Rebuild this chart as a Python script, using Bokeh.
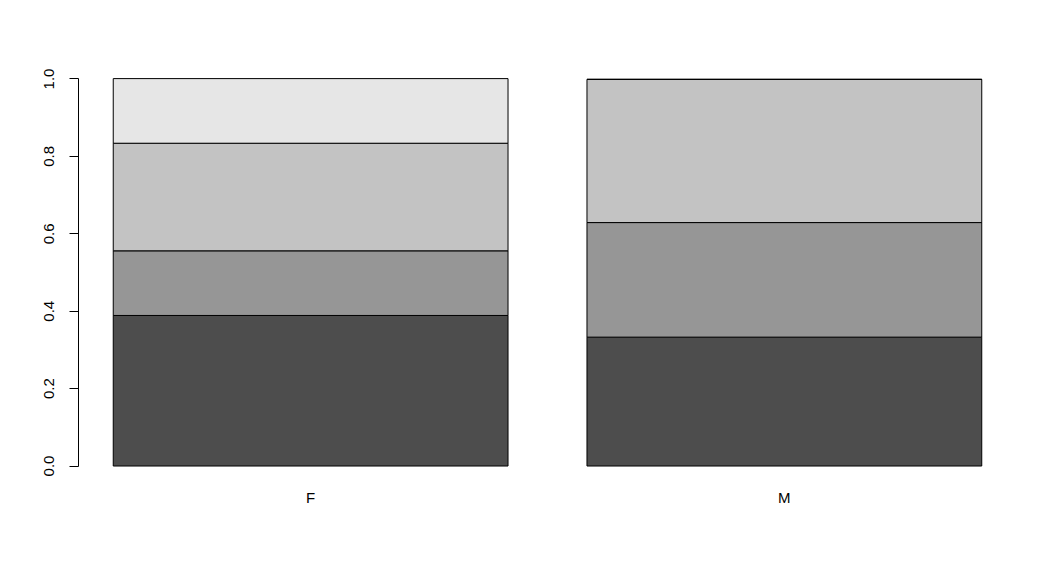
from bokeh.plotting import figure
from bokeh.models import Range1d, LinearAxis, FixedTicker, NumeralTickFormatter, ColumnDataSource
from bokeh.embed import file_html
from bokeh.resources import INLINE

# Data
categories = ["F", "M"]
seg1 = [0.389, 0.333]
seg2 = [0.167, 0.296]
seg3 = [0.278, 0.370]
seg4 = [0.167, 0.000]
colors = ["#4D4D4D", "#969696", "#C3C3C3", "#E6E6E6"]
y_ticks = [0.0, 0.2, 0.4, 0.6, 0.8, 1.0]

bar_width = 1.0
space = 0.2
lefts = [space + i * (bar_width + space) for i in range(len(categories))]
rights = [l + bar_width for l in lefts]
centers = [(l + r) / 2 for l, r in zip(lefts, rights)]

xmin, xmax = lefts[0], rights[-1]
pad = 0.04 * (xmax - xmin)

p = figure(width=1041, height=551, output_backend="svg", toolbar_location=None,
           x_range=Range1d(xmin - pad, xmax + pad), y_range=Range1d(-0.04, 1.04),
           x_axis_type=None, y_axis_type=None,
           min_border_left=78, min_border_right=25, min_border_top=63, min_border_bottom=70)
p.outline_line_color = None
p.xgrid.visible = False
p.ygrid.visible = False
p.background_fill_color = "white"
p.border_fill_color = "white"

bottom = [0.0] * len(categories)
for seg, col in zip([seg1, seg2, seg3, seg4], colors):
    top = [b + s for b, s in zip(bottom, seg)]
    src = ColumnDataSource(dict(left=lefts, right=rights, bottom=bottom, top=top))
    p.quad(left="left", right="right", bottom="bottom", top="top", source=src,
           fill_color=col, line_color="black", line_width=1)
    bottom = top

yaxis = LinearAxis(bounds=(0, 1), ticker=FixedTicker(ticks=y_ticks),
                   formatter=NumeralTickFormatter(format="0.0"))
yaxis.minor_tick_line_color = None
yaxis.major_tick_in = 0
yaxis.major_tick_out = 9
yaxis.major_label_orientation = "vertical"
yaxis.major_label_standoff = 15
yaxis.major_label_text_font = "Liberation Sans"
yaxis.major_label_text_font_size = "15px"
yaxis.major_label_text_color = "black"
yaxis.axis_line_color = "black"
yaxis.major_tick_line_color = "black"
p.add_layout(yaxis, "left")

xaxis = LinearAxis(ticker=FixedTicker(ticks=centers),
                   major_label_overrides={c: name for c, name in zip(centers, categories)})
xaxis.axis_line_color = None
xaxis.major_tick_line_color = None
xaxis.minor_tick_line_color = None
xaxis.major_tick_out = 0
xaxis.major_tick_in = 0
xaxis.major_label_standoff = 7
xaxis.major_label_text_font = "Liberation Sans"
xaxis.major_label_text_font_size = "15px"
xaxis.major_label_text_color = "black"
p.add_layout(xaxis, "below")

open("out.html", "w").write(file_html(p, INLINE))
